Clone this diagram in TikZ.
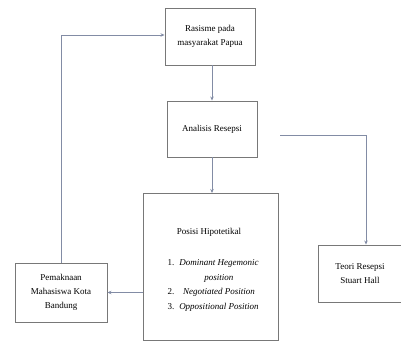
\documentclass[tikz,border=0pt]{standalone}
\usepackage{fontspec}
\setmainfont{Liberation Serif}
\usetikzlibrary{arrows.meta}
\definecolor{boxc}{RGB}{120,120,120}
\definecolor{linec}{RGB}{130,140,165}
\tikzset{
  box/.style={draw=boxc, line width=0.9pt, fill=white, align=center, inner sep=2pt,
    font=\fontsize{9}{14}\selectfont},
  conn/.style={draw=linec, line width=0.7pt, -{Stealth[length=4pt,width=3.5pt]}}
}
\begin{document}
\begin{tikzpicture}[x=1pt,y=-1pt]
\useasboundingbox (0,0) rectangle (401,342);
\node[box, minimum width=90pt, minimum height=57pt] (top) at (210,36.5) {Rasisme pada\\masyarakat Papua};
\node[box, minimum width=90pt, minimum height=56pt] (ana) at (212,129) {Analisis Resepsi};
\node[box, minimum width=135pt, minimum height=147pt, anchor=north] (pos) at (210.5,193) {};
\node[font=\fontsize{9}{14}\selectfont] (postitle) at (209,232) {Posisi Hipotetikal};
\node[font=\fontsize{9}{14.5}\selectfont, anchor=north] (poslist) at (213,252) {%
  \begin{tabular}{@{}r@{\hspace{5pt}}c@{}}
  1. & \textit{Dominant Hegemonic}\\
     & \textit{position}\\
  2. & \textit{Negotiated Position}\\
  3. & \textit{Oppositional Position}
  \end{tabular}};
\node[box, minimum width=92pt, minimum height=59pt] (pem) at (61,292.5) {Pemaknaan\\Mahasiswa Kota\\Bandung};
\node[box, minimum width=84pt, minimum height=57pt] (teo) at (360,273.5) {Teori Resepsi\\Stuart Hall};
\coordinate (start) at (280,135);
\draw[conn] (top.south -| ana.north) -- (ana.north);
\draw[conn] (ana.south) -- (ana.south |- pos.north);
\draw[conn] (pos.west |- pem.east) -- (pem.east);
\draw[conn] (pem.north) -- (pem.north |- 0,35) -- (top.west |- 0,35);
\draw[conn] (start) -- (366,135) -- (366,0 |- teo.north);
\end{tikzpicture}
\end{document}
